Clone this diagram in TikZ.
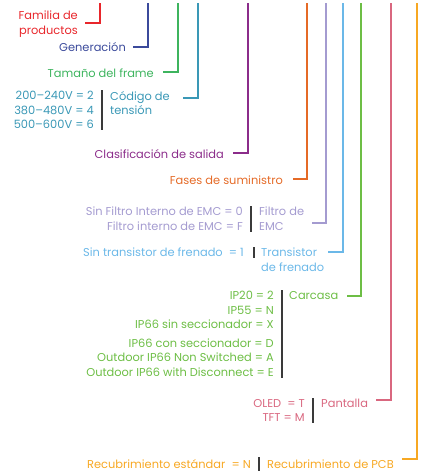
\documentclass[tikz,border=0pt]{standalone}
\usepackage{fontspec}
\setmainfont{Poppins}
\usetikzlibrary{positioning}

\definecolor{famRed}{HTML}{E8262B}
\definecolor{genBlue}{HTML}{3B4A9B}
\definecolor{tamGreen}{HTML}{3DB45E}
\definecolor{voltTeal}{HTML}{3A98B6}
\definecolor{clsPurple}{HTML}{8B2C8A}
\definecolor{fasOrange}{HTML}{E56A26}
\definecolor{emcLav}{HTML}{A49BD0}
\definecolor{brkBlue}{HTML}{6BB8E8}
\definecolor{carGreen}{HTML}{6DBE45}
\definecolor{panPink}{HTML}{D9677F}
\definecolor{recAmber}{HTML}{F7A823}
\definecolor{sepGray}{HTML}{3A3A3A}

\begin{document}
\begin{tikzpicture}[x=1pt, y=-1pt,
    font=\fontsize{11.4}{14.6}\selectfont,
    every node/.style={inner sep=0pt},
    lead/.style={line width=2pt},
    sep/.style={line width=1.2pt, sepGray}]
    \useasboundingbox (0,0) rectangle (443,474);

    % tops of the leads
    \coordinate (famTop) at (99.5, 3);
    \coordinate (genTop) at (148, 3);
    \coordinate (tamTop) at (178, 3);
    \coordinate (voltTop) at (198, 3);
    \coordinate (clsTop) at (248, 3);
    \coordinate (fasTop) at (307, 3);
    \coordinate (emcTop) at (326, 3);
    \coordinate (brkTop) at (343, 3);
    \coordinate (carTop) at (361, 3);
    \coordinate (panTop) at (391, 3);
    \coordinate (recTop) at (417, 3);

    % ends of the leads
    \coordinate (famEnd) at (85, 22.5);
    \coordinate (genEnd) at (133, 46.5);
    \coordinate (tamEnd) at (163, 71.5);
    \coordinate (voltEnd) at (183, 97.5);
    \coordinate (clsEnd) at (233, 153);
    \coordinate (fasEnd) at (293, 179);
    \coordinate (emcEnd) at (312, 223);
    \coordinate (brkEnd) at (328, 252);
    \coordinate (carEnd) at (347, 296);
    \coordinate (panEnd) at (376, 400);
    \coordinate (recEnd) at (402, 459);

    % Draw
    \draw[lead, famRed] (famTop) |- (famEnd);
    \draw[lead, genBlue] (genTop) |- (genEnd);
    \draw[lead, tamGreen] (tamTop) |- (tamEnd);
    \draw[lead, voltTeal] (voltTop) |- (voltEnd);
    \draw[lead, clsPurple] (clsTop) |- (clsEnd);
    \draw[lead, fasOrange] (fasTop) |- (fasEnd);
    \draw[lead, emcLav] (emcTop) |- (emcEnd);
    \draw[lead, brkBlue] (brkTop) |- (brkEnd);
    \draw[lead, carGreen] (carTop) |- (carEnd);
    \draw[lead, panPink] (panTop) |- (panEnd);
    \draw[lead, recAmber] (recTop) |- (recEnd);

    % Labeling
    \node[anchor=east, align=right, text=famRed] (fam) at (78, 24) {Familia de\\productos};
    \node[anchor=east, text=genBlue] (gen) at (126, 47) {Generación};
    \node[anchor=east, text=tamGreen] (tam) at (154, 73) {Tamaño del frame};

    \node[anchor=north east, align=right, text=voltTeal] (volt) at (94, 91) {200–240V = 2\\380–480V = 4\\500–600V = 6};
    \node[align=left, text=voltTeal, right=16pt of volt.north east, anchor=north west] (voltT) {Código de\\tensión};

    \node[anchor=east, text=clsPurple] (cls) at (224, 154) {Clasificación de salida};
    \node[anchor=east, text=fasOrange] (fas) at (283, 180) {Fases de suministro};

    \node[anchor=north east, align=right, text=emcLav] (emc) at (243, 207) {Sin Filtro Interno de EMC = 0\\Filtro interno de EMC = F};
    \node[align=left, text=emcLav, right=16pt of emc.north east, anchor=north west] (emcT) {Filtro de\\EMC};

    \node[anchor=north east, align=right, text=brkBlue] (brk) at (244, 248) {Sin transistor de frenado\ \ = 1};
    \node[align=left, text=brkBlue, right=17pt of brk.north east, anchor=north west] (brkT) {Transistor\\de frenado};

    \node[anchor=north east, align=right, text=carGreen] (car) at (274, 291) {IP20 = 2\\IP55 = N\\IP66 sin seccionador = X\\[4pt]IP66 con seccionador = D\\Outdoor IP66 Non Switched = A\\Outdoor IP66 with Disconnect = E};
    \node[align=left, text=carGreen, right=15pt of car.north east, anchor=north west] (carT) {Carcasa};

    \node[anchor=north east, align=right, text=panPink] (pan) at (305, 399) {OLED\ \ = T\\TFT = M};
    \node[align=left, text=panPink, right=16pt of pan.north east, anchor=north west] (panT) {Pantalla};

    \node[anchor=east, text=recAmber] (rec) at (251, 464) {Recubrimiento estándar\ \ = N};
    \node[text=recAmber, right=16pt of rec, anchor=west] (recT) {Recubrimiento de PCB};

    % separators
    \foreach \val/\gap in {volt/8, emc/8, brk/10, car/8, pan/8}
        \draw[sep] ([xshift=\gap pt, yshift=1pt]\val.north east) -- ([xshift=\gap pt, yshift=-1pt]\val.south east);
    \draw[sep] ([xshift=8pt, yshift=2pt]rec.north east) -- ([xshift=8pt, yshift=-2pt]rec.south east);
\end{tikzpicture}
\end{document}
